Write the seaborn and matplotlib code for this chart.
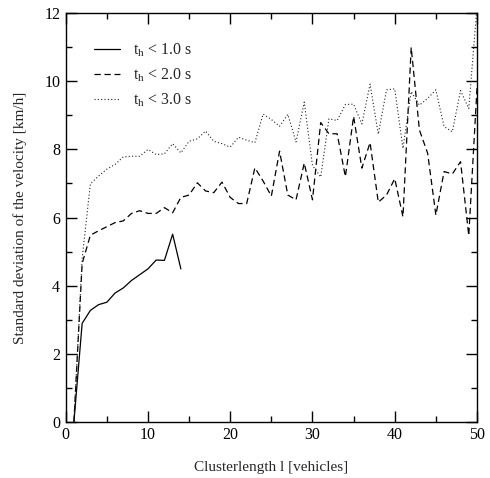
import numpy as np
import pandas as pd
import matplotlib
matplotlib.use("Agg")
import matplotlib.pyplot as plt
import seaborn as sns
from matplotlib.ticker import MultipleLocator
from matplotlib.lines import Line2D

# ---- data ----
len_1 = list(range(1, 15))
sd_1 = [0.0, 2.89, 3.27, 3.44, 3.51, 3.78, 3.93, 4.15, 4.32, 4.49, 4.75, 4.74, 5.51, 4.49]

len_2 = list(range(1, 51))
sd_2 = [0.0, 4.65, 5.48, 5.61, 5.73, 5.85, 5.90, 6.12, 6.20, 6.12,
        6.12, 6.29, 6.14, 6.59, 6.66, 7.02, 6.78, 6.73, 7.04, 6.59,
        6.41, 6.41, 7.46, 7.07, 6.63, 7.95, 6.66, 6.52, 7.60, 6.52,
        8.79, 8.46, 8.46, 7.20, 8.97, 7.45, 8.20, 6.45, 6.66, 7.14,
        6.02, 11.0, 8.57, 7.89, 6.07, 7.35, 7.28, 7.64, 5.47, 9.8]

len_3 = list(range(1, 51))
sd_3 = [0.0, 4.80, 6.99, 7.22, 7.42, 7.56, 7.78, 7.80, 7.80, 8.00,
        7.85, 7.87, 8.17, 7.90, 8.24, 8.31, 8.54, 8.24, 8.17, 8.07,
        8.36, 8.27, 8.20, 9.04, 8.88, 8.68, 9.03, 8.22, 9.39, 7.53,
        7.19, 8.90, 8.85, 9.32, 9.33, 8.75, 9.92, 8.45, 9.75, 9.78,
        8.03, 9.70, 9.30, 9.50, 9.75, 8.67, 8.52, 9.73, 9.20, 12.2]

labels = [r"$\mathregular{t_h}$ < 1.0 s", r"$\mathregular{t_h}$ < 2.0 s", r"$\mathregular{t_h}$ < 3.0 s"]

df = pd.concat([
    pd.DataFrame({"l": len_1, "sd": sd_1, "series": labels[0]}),
    pd.DataFrame({"l": len_2, "sd": sd_2, "series": labels[1]}),
    pd.DataFrame({"l": len_3, "sd": sd_3, "series": labels[2]}),
], ignore_index=True)

sns.set_theme(style="ticks")
plt.rcParams["font.family"] = ["Liberation Serif", "DejaVu Serif"]
plt.rcParams["mathtext.fontset"] = "custom"
plt.rcParams["mathtext.rm"] = "Liberation Serif"
plt.rcParams["mathtext.it"] = "Liberation Serif:italic"

fig = plt.figure(figsize=(4.9, 4.78), dpi=100)
ax = fig.add_axes([65.7 / 490, 1 - 421.7 / 478, (477 - 65.7) / 490, (421.7 - 13.3) / 478])

dashes = {labels[0]: "", labels[1]: (5, 3), labels[2]: (1, 2)}
sns.lineplot(data=df, x="l", y="sd", style="series", dashes=dashes,
             color="black", linewidth=0.9, estimator=None, sort=False,
             ax=ax, legend=False)
# dotted line drawn slightly finer, as in the reference
ax.lines[2].set_linewidth(0.8)
ax.lines[2].set_color("#222222")

ax.set_xlim(0, 50)
ax.set_ylim(0, 12)
ax.xaxis.set_major_locator(MultipleLocator(10))
ax.xaxis.set_minor_locator(MultipleLocator(5))
ax.yaxis.set_major_locator(MultipleLocator(2))
ax.yaxis.set_minor_locator(MultipleLocator(1))
ax.tick_params(which="both", direction="in", top=True, right=True,
               labelsize=11.5, colors="black", width=1.0)
ax.tick_params(which="major", length=8, pad=4)
ax.tick_params(which="minor", length=4)
for s in ax.spines.values():
    s.set_visible(True)
    s.set_linewidth(1.0)
    s.set_color("black")

ax.set_xlabel("Clusterlength l [vehicles]", fontsize=11, labelpad=13)
ax.set_ylabel("Standard deviation of the velocity [km/h]", fontsize=11, labelpad=12)

handles = [Line2D([], [], color="black", linewidth=0.9, linestyle="-"),
           Line2D([], [], color="black", linewidth=0.9, dashes=(5, 3)),
           Line2D([], [], color="#222222", linewidth=0.8, dashes=(1, 2))]
ax.legend(handles, labels, loc="upper left", bbox_to_anchor=(0.035, 0.965),
          frameon=False, fontsize=11.5, handlelength=1.6, handletextpad=0.8,
          labelspacing=0.45)

fig.savefig("out.png", dpi=100)
